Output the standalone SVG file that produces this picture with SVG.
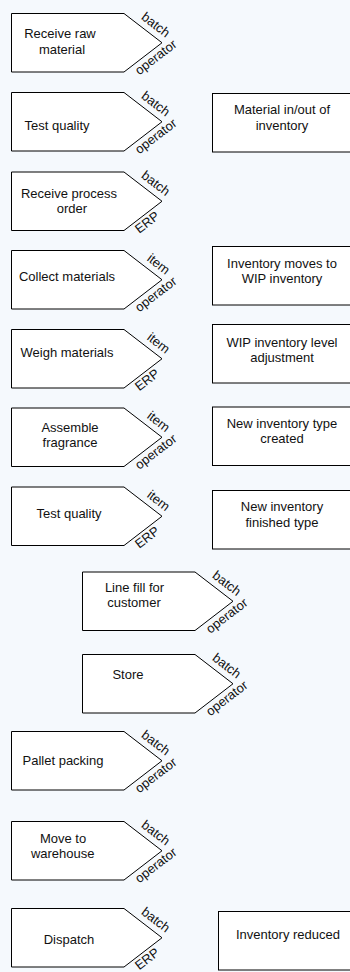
<svg xmlns="http://www.w3.org/2000/svg" xmlns:xlink="http://www.w3.org/1999/xlink" width="350" height="972" viewBox="0 0 350 972">
<style>
.shape{fill:#fff;stroke:#000;stroke-width:1}
.t{font-family:"Liberation Sans",Arial,sans-serif;font-size:13px;fill:#111;text-anchor:middle}
.lu{font-family:"Liberation Sans",Arial,sans-serif;font-size:13px;fill:#111;text-anchor:end}
.ll{font-family:"Liberation Sans",Arial,sans-serif;font-size:13px;fill:#111;text-anchor:start}
</style>
<defs>
<path id="pent" class="shape" d="M0,0 H112.5 L150.5,29.25 L112.5,58.5 H0 Z"/>
</defs>
<rect width="350" height="972" fill="#f5f9fd"/>
<g id="connectors"></g>

<g id="s1">
<use xlink:href="#pent" x="11.5" y="13.5"/>
<text class="t" x="60" y="38">Receive raw</text>
<text class="t" x="62" y="53.5">material</text>
<text class="lu" transform="translate(162,42.75) rotate(37.6)" x="0" y="-6">batch</text>
<text class="ll" transform="translate(162,42.75) rotate(-37.6)" x="-38" y="12">operator</text>
</g>
<g id="s2">
<use xlink:href="#pent" x="11.5" y="92.5"/>
<text class="t" x="57" y="130">Test quality</text>
<text class="lu" transform="translate(162,121.75) rotate(37.6)" x="0" y="-6">batch</text>
<text class="ll" transform="translate(162,121.75) rotate(-37.6)" x="-38" y="12">operator</text>
</g>
<g id="s3">
<use xlink:href="#pent" x="11.5" y="172"/>
<text class="t" x="69" y="197.7">Receive process</text>
<text class="t" x="72" y="213.3">order</text>
<text class="lu" transform="translate(162,201.25) rotate(37.6)" x="0" y="-6">batch</text>
<text class="ll" transform="translate(162,201.25) rotate(-37.6)" x="-38" y="12">ERP</text>
</g>
<g id="s4">
<use xlink:href="#pent" x="11.5" y="250.5"/>
<text class="t" x="67" y="280.7">Collect materials</text>
<text class="lu" transform="translate(162,279.75) rotate(37.6)" x="0" y="-6">item</text>
<text class="ll" transform="translate(162,279.75) rotate(-37.6)" x="-38" y="12">operator</text>
</g>
<g id="s5">
<use xlink:href="#pent" x="11.5" y="329.5"/>
<text class="t" x="67" y="357.3">Weigh materials</text>
<text class="lu" transform="translate(162,358.75) rotate(37.6)" x="0" y="-6">item</text>
<text class="ll" transform="translate(162,358.75) rotate(-37.6)" x="-38" y="12">ERP</text>
</g>
<g id="s6">
<use xlink:href="#pent" x="11.5" y="408"/>
<text class="t" x="70" y="431.7">Assemble</text>
<text class="t" x="70" y="446.7">fragrance</text>
<text class="lu" transform="translate(162,437.25) rotate(37.6)" x="0" y="-6">item</text>
<text class="ll" transform="translate(162,437.25) rotate(-37.6)" x="-38" y="12">operator</text>
</g>
<g id="s7">
<use xlink:href="#pent" x="11.5" y="487"/>
<text class="t" x="69" y="518.3">Test quality</text>
<text class="lu" transform="translate(162,516.25) rotate(37.6)" x="0" y="-6">item</text>
<text class="ll" transform="translate(162,516.25) rotate(-37.6)" x="-38" y="12">ERP</text>
</g>
<g id="s8">
<use xlink:href="#pent" x="82.5" y="572"/>
<text class="t" x="134.5" y="591.7">Line fill for</text>
<text class="t" x="134" y="607.3">customer</text>
<text class="lu" transform="translate(233,601.25) rotate(37.6)" x="0" y="-6">batch</text>
<text class="ll" transform="translate(233,601.25) rotate(-37.6)" x="-38" y="12">operator</text>
</g>
<g id="s9">
<use xlink:href="#pent" x="82.5" y="654.5"/>
<text class="t" x="128" y="679.3">Store</text>
<text class="lu" transform="translate(233,683.75) rotate(37.6)" x="0" y="-6">batch</text>
<text class="ll" transform="translate(233,683.75) rotate(-37.6)" x="-38" y="12">operator</text>
</g>
<g id="s10">
<use xlink:href="#pent" x="11.5" y="731.5"/>
<text class="t" x="63" y="765">Pallet packing</text>
<text class="lu" transform="translate(162,760.75) rotate(37.6)" x="0" y="-6">batch</text>
<text class="ll" transform="translate(162,760.75) rotate(-37.6)" x="-38" y="12">operator</text>
</g>
<g id="s11">
<use xlink:href="#pent" x="11.5" y="821.5"/>
<text class="t" x="63" y="842.5">Move to</text>
<text class="t" x="62.7" y="858.3">warehouse</text>
<text class="lu" transform="translate(162,850.75) rotate(37.6)" x="0" y="-6">batch</text>
<text class="ll" transform="translate(162,850.75) rotate(-37.6)" x="-38" y="12">operator</text>
</g>
<g id="s12">
<use xlink:href="#pent" x="11.5" y="908.5"/>
<text class="t" x="69" y="944">Dispatch</text>
<text class="lu" transform="translate(162,937.75) rotate(37.6)" x="0" y="-6">batch</text>
<text class="ll" transform="translate(162,937.75) rotate(-37.6)" x="-38" y="12">ERP</text>
</g>

<g id="b1">
<rect class="shape" x="212.5" y="93.5" width="150" height="58.5"/>
<text class="t" x="282" y="114.3">Material in/out of</text>
<text class="t" x="282" y="130">inventory</text>
</g>
<g id="b2">
<rect class="shape" x="212.5" y="246.5" width="150" height="58.5"/>
<text class="t" x="282" y="268.3">Inventory moves to</text>
<text class="t" x="282" y="283.3">WIP inventory</text>
</g>
<g id="b3">
<rect class="shape" x="212.5" y="324.5" width="150" height="58.5"/>
<text class="t" x="282" y="346.7">WIP inventory level</text>
<text class="t" x="282" y="361.7">adjustment</text>
</g>
<g id="b4">
<rect class="shape" x="212.5" y="407" width="150" height="58.5"/>
<text class="t" x="282" y="427.7">New inventory type</text>
<text class="t" x="282" y="443.3">created</text>
</g>
<g id="b5">
<rect class="shape" x="212.5" y="490.5" width="150" height="58.5"/>
<text class="t" x="282" y="511">New inventory</text>
<text class="t" x="282" y="526.5">finished type</text>
</g>
<g id="b6">
<rect class="shape" x="218.5" y="911.5" width="150" height="58.5"/>
<text class="t" x="288" y="939.3">Inventory reduced</text>
</g>
</svg>
